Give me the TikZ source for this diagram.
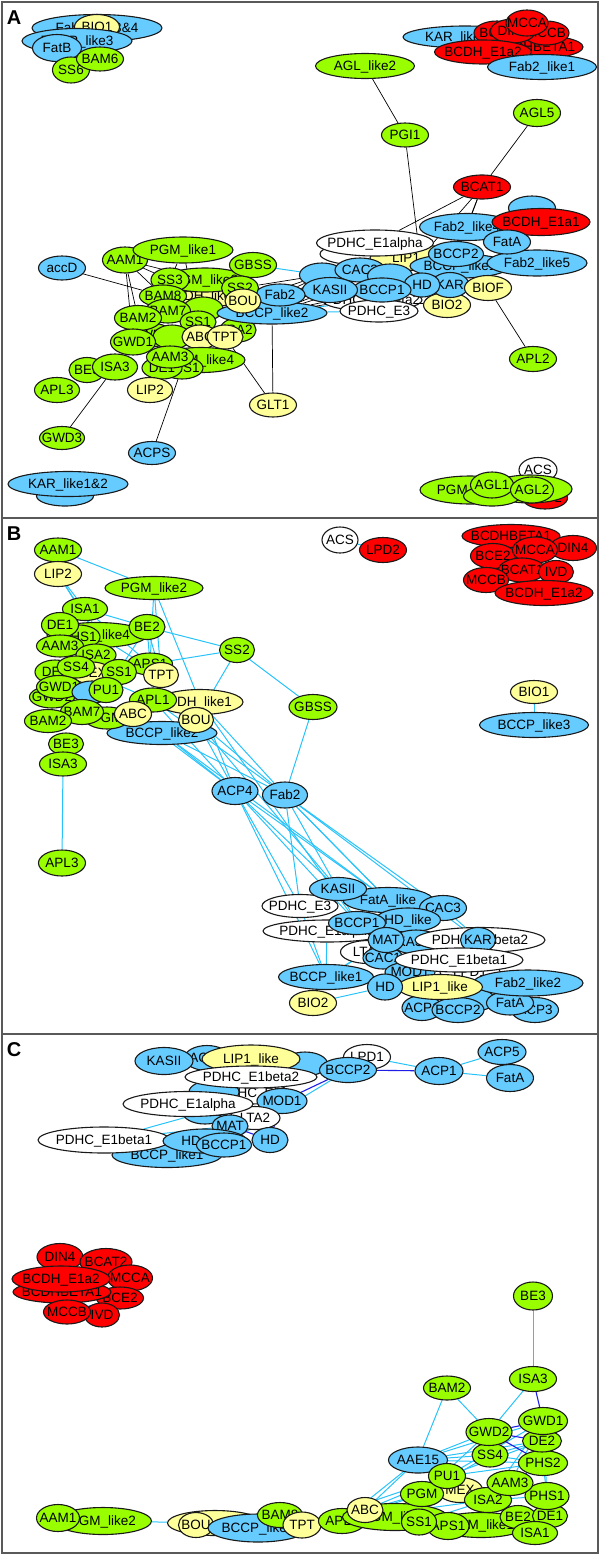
\documentclass[tikz,border=0pt]{standalone}
\usepackage{fontspec}
\setmainfont{Liberation Sans}
\usetikzlibrary{shapes.geometric}
\definecolor{cgreen}{RGB}{153,255,0}
\definecolor{cblue}{RGB}{102,204,255}
\definecolor{cyell}{RGB}{255,255,153}
\definecolor{cred}{RGB}{255,0,0}
\definecolor{ecyan}{RGB}{40,195,250}
\definecolor{edblue}{RGB}{30,30,230}
\pgfdeclarelayer{bg}
\pgfsetlayers{bg,main}
\newcommand\mkn[6]{\node[#1,minimum width=#4pt,minimum height=#5pt] (#2) at (#3) {\makebox[0pt]{#6}};}
\tikzset{
 nb/.style={ellipse,draw=black!90,line width=1.1pt,inner sep=0pt,font=\fontsize{13.5}{13.5}\selectfont,text height=10.9pt,text depth=1.2pt},
 gn/.style={nb,fill=cgreen}, bl/.style={nb,fill=cblue}, yl/.style={nb,fill=cyell},
 rd/.style={nb,fill=cred}, wt/.style={nb,fill=white},
 ek/.style={draw=black,line width=0.7pt},
 ec/.style={draw=ecyan,line width=1pt},
 ed/.style={draw=edblue,line width=1.1pt},
 panel/.style={draw=black!65,line width=1.3pt},
 plabel/.style={font=\fontsize{20}{20}\selectfont\bfseries}
}
\begin{document}
\begin{tikzpicture}[x=1pt,y=-1pt]
\useasboundingbox (0,0) rectangle (600,1555);
\draw[panel] (2,2) rectangle (598,518);
\draw[panel] (2,518) rectangle (598,1034);
\draw[panel] (2,1034) rectangle (598,1553);
\node[plabel] (labA) at (14,18) {A};
\node[plabel] (labB) at (14,534) {B};
\node[plabel] (labC) at (14,1050) {C};

% ================= PANEL A =================
\mkn{bl}{aFab34}{97,28}{130}{27}{Fab2\_like3\&4}
\mkn{yl}{aBIO1}{97,27}{45}{25}{BIO1}
\mkn{bl}{aBCCPl3}{77,41}{110}{25}{BCCP\_like3}
\mkn{bl}{aFatB}{57,48}{49}{27}{FatB}
\mkn{gn}{aSS6}{71,70}{37}{26}{SS6}
\mkn{gn}{aBAM6}{100,59}{47}{24}{BAM6}

\mkn{bl}{aKARl34}{465,37}{124}{22}{KAR\_like3\&4}
\mkn{rd}{aBCE2}{497,33}{46}{24}{BCE2}
\mkn{rd}{aBCDHB}{535,47}{96}{24}{BCDHBETA1}
\mkn{rd}{aMCCB}{546,33}{46}{24}{MCCB}
\mkn{rd}{aDIN4}{513,31}{45}{24}{DIN4}
\mkn{rd}{aMCCA}{527,23}{42}{26}{MCCA}
\mkn{rd}{aE1a2}{483,52}{97}{24}{BCDH\_E1a2}
\mkn{bl}{aFab2l1}{542,67}{109}{25}{Fab2\_like1}

\mkn{gn}{aAGLl2}{365,66}{99}{25}{AGL\_like2}
\mkn{gn}{aPGI1}{405,135}{47}{24}{PGI1}
\mkn{gn}{aAGL5}{537,113}{47}{27}{AGL5}
\mkn{rd}{aBCAT1}{482,187}{57}{24}{BCAT1}

\mkn{bl}{aHid1}{532,208}{47}{24}{}
\mkn{wt}{aE1b1}{360,254}{80}{22}{}
\mkn{yl}{aLIP1}{420,258}{100}{25}{LIP1\_like}
\mkn{bl}{aBCCPl1}{460,266}{100}{24}{BCCP\_like1}
\mkn{bl}{aFab2l5}{537,263}{100}{26}{Fab2\_like5}
\mkn{bl}{aFab2l4}{467,227}{95}{27}{Fab2\_like4}
\mkn{rd}{aE1a1}{541,222}{98}{27}{BCDH\_E1a1}
\mkn{bl}{aFatA}{507,242}{47}{24}{FatA}
\mkn{wt}{aE1al}{375,243}{117}{26}{PDHC\_E1alpha}
\mkn{bl}{aBCCP2}{456,254}{55}{25}{BCCP2}
\mkn{bl}{aE}{322,275}{45}{24}{}
\mkn{bl}{aCAC}{360,270}{50}{24}{CAC3}
\mkn{bl}{aCAC2}{390,276}{45}{24}{}
\mkn{wt}{aE1b2}{372,300}{100}{22}{PDHC\_E1beta2}
\mkn{yl}{aBIO2}{447,305}{47}{25}{BIO2}
\mkn{wt}{aE3}{379,311}{78}{22}{PDHC\_E3}
\mkn{bl}{aKAR}{450,285}{38}{25}{KAR}
\mkn{bl}{aHD}{422,285}{36}{24}{HD}
\mkn{bl}{aBCCP1}{382,290}{58}{24}{BCCP1}
\mkn{bl}{aKASII}{330,290}{55}{25}{KASII}
\mkn{yl}{aBIOF}{488,288}{47}{25}{BIOF}

\mkn{yl}{aPDHl1}{207,296}{70}{22}{PDH\_like1}
\mkn{gn}{aPGMl2}{205,280}{85}{24}{PGM\_like2}
\mkn{gn}{aAAM1}{125,260}{45}{26}{AAM1}
\mkn{gn}{aPGMl1}{183,250}{100}{26}{PGM\_like1}
\mkn{gn}{aGBSS}{253,265}{47}{25}{GBSS}
\mkn{gn}{aSS3}{170,280}{38}{24}{SS3}
\mkn{gn}{aBAM8}{163,296}{47}{22}{BAM8}
\mkn{gn}{aGx}{203,309}{40}{24}{}
\mkn{gn}{aBAM7}{168,311}{45}{24}{BAM7}
\mkn{gn}{aSS1}{198,322}{36}{22}{SS1}
\mkn{gn}{aISA2}{238,330}{36}{24}{ISA2}
\mkn{gn}{aGWD2}{150,335}{46}{24}{GWD2}
\mkn{gn}{aSS4}{172,337}{38}{24}{}
\mkn{gn}{aBAM2}{138,318}{47}{25}{BAM2}
\mkn{gn}{aGWD1}{133,342}{45}{26}{GWD1}
\mkn{yl}{aABC}{200,337}{36}{24}{ABC}
\mkn{yl}{aTPT}{225,337}{36}{24}{TPT}
\mkn{gn}{aLike4}{201,360}{88}{25}{PGM\_like4}
\mkn{gn}{aPHS1}{182,368}{42}{22}{PHS1}
\mkn{gn}{aDE1}{162,368}{40}{22}{DE1}
\mkn{gn}{aAAM3}{170,357}{47}{22}{AAM3}
\mkn{gn}{aBE3}{87,370}{36}{25}{BE3}
\mkn{gn}{aISA3}{115,367}{45}{26}{ISA3}
\mkn{gn}{aAPL3}{57,390}{45}{25}{APL3}
\mkn{yl}{aLIP2}{150,390}{45}{25}{LIP2}
\mkn{yl}{aGLT1}{273,405}{47}{24}{GLT1}
\mkn{gn}{aGWD3}{62,438}{45}{23}{GWD3}
\mkn{bl}{aACPS}{152,453}{47}{23}{ACPS}
\mkn{bl}{aaccD}{62,268}{47}{24}{accD}
\mkn{bl}{aBCCPl2}{272,313}{110}{22}{BCCP\_like2}
\mkn{bl}{aFab2}{280,295}{50}{22}{Fab2}
\mkn{gn}{aSS2}{240,288}{37}{24}{SS2}
\mkn{yl}{aBOU}{243,301}{36}{24}{BOU}
\mkn{gn}{aAPL2}{533,359}{47}{25}{APL2}

\mkn{bl}{aHid2}{65,496}{57}{20}{}
\mkn{bl}{aKARl12}{68,484}{120}{25}{KAR\_like1\&2}

\mkn{rd}{aLPD2}{545,498}{45}{22}{LPD2}
\mkn{wt}{aACS}{538,470}{38}{25}{ACS}
\mkn{gn}{aGr2}{530,489}{84}{28}{}
\mkn{gn}{aPGM3}{470,490}{100}{28}{PGM\_like3}
\mkn{gn}{aGr3}{492,496}{57}{20}{}
\mkn{gn}{aAGL1}{492,485}{43}{26}{AGL1}
\mkn{gn}{aAGL2}{532,490}{43}{26}{AGL2}

% ================= PANEL B =================
\mkn{gn}{bAAM1}{58,550}{47}{24}{AAM1}
\mkn{yl}{bLIP2}{58,574}{47}{25}{LIP2}
\mkn{gn}{bPGMl2}{154,588}{98}{23}{PGM\_like2}
\mkn{gn}{bISA1}{85,609}{45}{23}{ISA1}
\mkn{gn}{bLike4}{97,635}{100}{25}{PGM\_like4}
\mkn{gn}{bPHS1}{79,637}{42}{24}{PHS1}
\mkn{gn}{bBE2}{147,627}{36}{25}{BE2}
\mkn{gn}{bDE1}{60,625}{37}{25}{DE1}
\mkn{gn}{bAAM3}{60,646}{47}{22}{AAM3}
\mkn{gn}{bISA2}{96,655}{40}{22}{ISA2}
\mkn{gn}{bDE2}{55,672}{40}{24}{DE2}
\mkn{yl}{bMEX}{92,673}{40}{22}{MEX}
\mkn{gn}{bSS4}{76,667}{38}{22}{SS4}
\mkn{gn}{bAPS1}{150,664}{45}{22}{APS1}
\mkn{gn}{bSS1}{119,672}{35}{25}{SS1}
\mkn{yl}{bTPT}{161,675}{35}{25}{TPT}
\mkn{gn}{bGWD2}{52,697}{45}{22}{GWD2}
\mkn{gn}{bGWD1}{59,687}{45}{23}{GWD1}
\mkn{bl}{bAAE15}{92,692}{40}{22}{}
\mkn{gn}{bPU1}{106,690}{34}{25}{PU1}
\mkn{bl}{bBCCPl2}{162,733}{110}{23}{BCCP\_like2}
\mkn{yl}{bPDHl1}{200,702}{86}{25}{PDH\_like1}
\mkn{gn}{bAPL1}{153,700}{47}{24}{APL1}
\mkn{gn}{bPGM}{107,718}{45}{22}{PGM}
\mkn{gn}{bBAM7}{82,712}{43}{25}{BAM7}
\mkn{yl}{bABC}{133,714}{37}{25}{ABC}
\mkn{yl}{bBOU}{196,720}{35}{25}{BOU}
\mkn{gn}{bBAM2}{48,721}{47}{23}{BAM2}
\mkn{gn}{bBE3}{66,744}{35}{22}{BE3}
\mkn{gn}{bISA3}{63,764}{47}{24}{ISA3}
\mkn{gn}{bAPL3}{62,863}{47}{26}{APL3}
\mkn{gn}{bSS2}{237,650}{35}{25}{SS2}
\mkn{gn}{bGBSS}{313,707}{48}{25}{GBSS}

\mkn{wt}{bACS}{340,540}{36}{26}{ACS}
\mkn{rd}{bLPD2}{383,550}{47}{25}{LPD2}
\mkn{rd}{bBCDHB}{511,536}{98}{23}{BCDHBETA1}
\mkn{rd}{bBCE2}{493,556}{45}{25}{BCE2}
\mkn{rd}{bDIN4}{573,548}{47}{25}{DIN4}
\mkn{rd}{bMCCA}{535,550}{45}{26}{MCCA}
\mkn{rd}{bBCAT1}{522,570}{47}{24}{BCAT1}
\mkn{rd}{bIVD}{556,572}{35}{23}{IVD}
\mkn{rd}{bMCCB}{486,580}{45}{25}{MCCB}
\mkn{rd}{bE1a2}{544,593}{98}{25}{BCDH\_E1a2}
\mkn{yl}{bBIO1}{534,692}{47}{23}{BIO1}
\mkn{bl}{bBCCPl3}{534,725}{109}{25}{BCCP\_like3}

\mkn{bl}{bACP4}{235,791}{46}{27}{ACP4}
\mkn{bl}{bFab2}{285,795}{45}{26}{Fab2}

\mkn{wt}{bE3}{300,906}{76}{23}{PDHC\_E3}
\mkn{wt}{bE1al}{327,931}{128}{22}{PDHC\_E1alpha}
\mkn{bl}{bFatAl}{388,900}{90}{25}{FatA\_like}
\mkn{bl}{bKASII}{338,889}{57}{23}{KASII}
\mkn{bl}{bCAC3}{443,908}{47}{25}{CAC3}
\mkn{bl}{bHDl}{408,920}{65}{24}{HD\_like}
\mkn{bl}{bBCCP1}{357,923}{57}{23}{BCCP1}
\mkn{wt}{bLTA2}{368,952}{55}{23}{LTA2}
\mkn{bl}{bKASIII}{416,942}{50}{24}{KASIII}
\mkn{wt}{bE1b2}{480,940}{130}{25}{PDHC\_E1beta2}
\mkn{bl}{bKAR}{478,940}{35}{25}{KAR}
\mkn{bl}{bCAC1}{383,958}{40}{22}{CAC1}
\mkn{bl}{bMAT}{386,940}{36}{25}{MAT}
\mkn{bl}{bMOD1}{410,972}{50}{20}{MOD1}
\mkn{wt}{bLPD1}{470,972}{60}{20}{LPD1}
\mkn{wt}{bE1b1}{459,960}{128}{24}{PDHC\_E1beta1}
\mkn{bl}{bACP1}{422,1008}{40}{25}{ACP1}
\mkn{bl}{bACP5}{475,1000}{40}{22}{}
\mkn{bl}{bACP3}{535,1010}{47}{25}{ACP3}
\mkn{bl}{bFatA}{510,1003}{47}{24}{FatA}
\mkn{bl}{bBCCP2}{458,1010}{52}{25}{BCCP2}
\mkn{bl}{bFab2l2}{528,983}{110}{26}{Fab2\_like2}
\mkn{bl}{bBCCPl1}{326,977}{95}{25}{BCCP\_like1}
\mkn{yl}{bBIO2}{313,1003}{47}{25}{BIO2}
\mkn{yl}{bLIP1}{440,987}{85}{25}{LIP1\_like}
\mkn{bl}{bHD}{385,987}{35}{26}{HD}

% ================= PANEL C =================
\mkn{bl}{cACP4}{207,1058}{45}{25}{ACP4}
\mkn{bl}{cKASII}{164,1061}{58}{27}{KASII}
\mkn{bl}{cBr}{305,1064}{45}{24}{}
\mkn{wt}{cLPD1}{367,1057}{47}{25}{LPD1}
\mkn{yl}{cLIP1}{251,1059}{98}{28}{LIP1\_like}
\mkn{wt}{cE3}{250,1093}{78}{22}{PDHC\_E3}
\mkn{bl}{cMOD1}{282,1101}{50}{25}{MOD1}
\mkn{bl}{cBh}{214,1092}{50}{24}{}
\mkn{bl}{cCAC}{205,1112}{45}{24}{CAC3}
\mkn{bl}{cBCCP2}{348,1070}{57}{25}{BCCP2}
\mkn{wt}{cE1b2}{251,1077}{132}{22}{PDHC\_E1beta2}
\mkn{wt}{cLTA2}{255,1118}{50}{23}{LTA2}
\mkn{wt}{cE1al}{188,1104}{130}{25}{PDHC\_E1alpha}
\mkn{bl}{cMAT}{230,1126}{36}{22}{MAT}
\mkn{bl}{cHD2}{270,1140}{36}{25}{HD}
\mkn{bl}{cBCCPl1}{167,1155}{110}{25}{BCCP\_like1}
\mkn{wt}{cE1b1}{104,1140}{132}{26}{PDHC\_E1beta1}
\mkn{bl}{cHDl}{205,1141}{84}{24}{HD\_like}
\mkn{bl}{cBCCP1}{224,1145}{55}{24}{BCCP1}
\mkn{bl}{cACP1}{439,1071}{48}{27}{ACP1}
\mkn{bl}{cACP5}{502,1052}{48}{25}{ACP5}
\mkn{bl}{cFatA}{510,1078}{47}{27}{FatA}

\mkn{rd}{cDIN4}{60,1257}{46}{27}{DIN4}
\mkn{rd}{cBCAT2}{106,1262}{52}{27}{BCAT2}
\mkn{rd}{cMCCA}{130,1278}{45}{26}{MCCA}
\mkn{rd}{cBCE2}{120,1298}{47}{22}{BCE2}
\mkn{rd}{cBCDHB}{62,1292}{98}{22}{BCDHBETA1}
\mkn{rd}{cE1a2}{61,1279}{98}{26}{BCDH\_E1a2}
\mkn{rd}{cIVD}{102,1315}{35}{24}{IVD}
\mkn{rd}{cMCCB}{67,1312}{47}{24}{MCCB}

\mkn{yl}{cPDHl1}{215,1523}{95}{25}{}
\mkn{gn}{cPGMl2}{103,1521}{97}{27}{PGM\_like2}
\mkn{gn}{cAAM1}{58,1518}{43}{27}{AAM1}
\mkn{yl}{cBOU}{196,1525}{35}{25}{BOU}
\mkn{bl}{cBCCPl2}{258,1528}{100}{28}{BCCP\_like2}
\mkn{gn}{cBAM8}{280,1515}{45}{25}{BAM8}
\mkn{yl}{cTPT}{302,1525}{38}{26}{TPT}
\mkn{gn}{cAPL1}{342,1521}{47}{25}{APL1}
\mkn{gn}{cPGMl4}{395,1517}{105}{27}{PGM\_like4}
\mkn{yl}{cABC}{365,1510}{36}{25}{ABC}
\mkn{gn}{cPGMl1}{481,1525}{92}{25}{PGM\_like1}
\mkn{gn}{cAPS1}{448,1526}{42}{27}{APS1}
\mkn{gn}{cSS1}{419,1522}{35}{26}{SS1}
\mkn{gn}{cBE2}{518,1517}{36}{23}{BE2}
\mkn{gn}{cDE1}{550,1516}{35}{23}{DE1}
\mkn{gn}{cISA1}{535,1533}{45}{23}{ISA1}
\mkn{gn}{cPHS1}{547,1496}{44}{27}{PHS1}
\mkn{yl}{cMEX}{460,1490}{45}{25}{MEX}
\mkn{gn}{cISA2}{488,1500}{47}{25}{ISA2}
\mkn{gn}{cPGM}{422,1494}{43}{25}{PGM}
\mkn{bl}{cAAE15}{418,1460}{59}{26}{AAE15}
\mkn{gn}{cPU1}{447,1476}{37}{25}{PU1}
\mkn{gn}{cAAM3}{510,1483}{46}{25}{AAM3}
\mkn{gn}{cSS4}{490,1455}{36}{24}{SS4}
\mkn{gn}{cPHS2}{543,1463}{49}{25}{PHS2}
\mkn{gn}{cDE2}{542,1441}{39}{22}{DE2}
\mkn{gn}{cGWD2}{489,1432}{46}{27}{GWD2}
\mkn{gn}{cGWD1}{543,1421}{49}{27}{GWD1}
\mkn{gn}{cBAM2}{447,1388}{47}{24}{BAM2}
\mkn{gn}{cISA3}{533,1379}{47}{25}{ISA3}
\mkn{gn}{cBE3}{533,1296}{39}{28}{BE3}

% ================= EDGES =================
\begin{pgfonlayer}{bg}
\foreach \u/\v in {aAGLl2/aPGI1, aPGI1/aLIP1, aAGL5/aBCAT1, aBCAT1/aFab2l4, aBCAT1/aLIP1, aBCAT1/aE1al, aBCAT1/aBCCP2,
 aaccD/aBAM8, aAAM1/aBAM2, aAAM1/aBAM8, aAAM1/aGWD1, aAAM1/aSS3, aAAM1/aPGMl2, aISA3/aGWD3, aACPS/aPHS1,
 aGLT1/aTPT, aGLT1/aBCCPl2, aBIOF/aAPL2,
 aFab2/aKASII, aFab2/aBCCP1, aFab2/aE, aFab2/aCAC, aFab2/aHD, aBCCPl2/aKASII, aBCCPl2/aBCCP1,
 aBOU/aKASII, aSS2/aKASII, aBOU/aBCCP1, aFab2/aE1b2, aBCCPl2/aKAR, aSS2/aE, aFab2/aLIP1, aBOU/aE,
 aBCCPl2/aCAC2, aFab2/aBIO2, aKASII/aBCCP1, aPGMl1/aBAM8, aPGMl1/aSS1, aSS3/aBAM7, aBAM8/aBOU}
 \draw[ek] (\u) -- (\v);
\foreach \u/\v in {aGBSS/aE, aBCCPl2/aE3, aBCCPl2/aE1b2, aLIP2/aDE1, aSS2/aFab2}
 \draw[ec] (\u) -- (\v);

\foreach \u/\v in {bAAM1/bPGMl2, bLIP2/bISA1, bLIP2/bLike4, bLIP2/bSS1, bPGMl2/bTPT, bPGMl2/bPDHl1, bPGMl2/bAPS1,
 bISA1/bBE2, bISA1/bSS1, bISA1/bAPS1, bBE2/bSS2, bBE2/bTPT, bBE2/bAPL1, bBE2/bPU1, bSS2/bAPS1, bSS2/bBOU,
 bSS2/bGBSS, bGBSS/bFab2, bLike4/bPU1, bDE1/bSS1, bSS4/bAPL1, bLike4/bTPT,
 bBCCPl2/bACP4, bPDHl1/bACP4, bBOU/bACP4, bABC/bACP4, bAPL1/bACP4,
 bBCCPl2/bFab2, bBOU/bFab2, bPDHl1/bFab2, bAPL1/bFab2,
 bBOU/bKASII, bBCCPl2/bFatAl, bPDHl1/bBCCP1,
 bACP4/bE3, bACP4/bKASII, bACP4/bFatAl, bACP4/bBCCP1, bACP4/bBCCPl1,
 bFab2/bKASII, bFab2/bE3, bFab2/bFatAl, bFab2/bCAC3, bFab2/bHDl, bFab2/bKAR,
 bE1al/bBCCPl1, bBIO2/bHD, bCAC3/bE1b2, bKASII/bBCCP1, bBCCPl1/bMAT, bBCCPl1/bLTA2, bE3/bBCCPl1,
 bBIO1/bBCCPl3, bACS/bLPD2, bISA3/bAPL3}
 \draw[ec] (\u) -- (\v);

\foreach \u/\v in {cBCCP2/cLIP1, cLPD1/cACP1, cACP1/cACP5, cACP1/cFatA, cBCCP2/cBCCP1, cE1b1/cCAC, cE1b1/cMAT,
 cBE3/cISA3, cISA3/cGWD2, cBAM2/cGWD2, cBAM2/cAAE15, cAAE15/cGWD2, cAAE15/cDE2, cAAE15/cPHS2, cAAE15/cSS4, cAAE15/cGWD1,
 cPU1/cGWD1, cPU1/cDE2, cPU1/cPHS2, cPGM/cGWD2, cPGM/cSS4, cSS4/cPHS2, cSS4/cDE2, cPHS2/cPHS1,
 cABC/cAAE15, cABC/cPU1, cABC/cPGM, cAPL1/cPGM, cTPT/cABC, cTPT/cISA2, cBAM8/cAPL1, cPGMl2/cPDHl1,
 cISA2/cPHS1, cISA2/cGWD1, cAAM3/cGWD1, cPHS1/cGWD1, cDE1/cPHS1, cAPL1/cAAE15, cSS1/cISA2, cTPT/cPU1}
 \draw[ec] (\u) -- (\v);
\foreach \u/\v in {cBCCP2/cACP1, cBCCP2/cMAT, cMOD1/cHD2, cLIP1/cCAC, cMAT/cHD2, cMCCB/cBCE2,
 cISA3/cGWD1, cGWD2/cGWD1, cGWD2/cDE2, cGWD2/cPHS2, cAAM3/cPHS2, cPGMl4/cPGM}
 \draw[ed] (\u) -- (\v);
\end{pgfonlayer}
\end{tikzpicture}
\end{document}
